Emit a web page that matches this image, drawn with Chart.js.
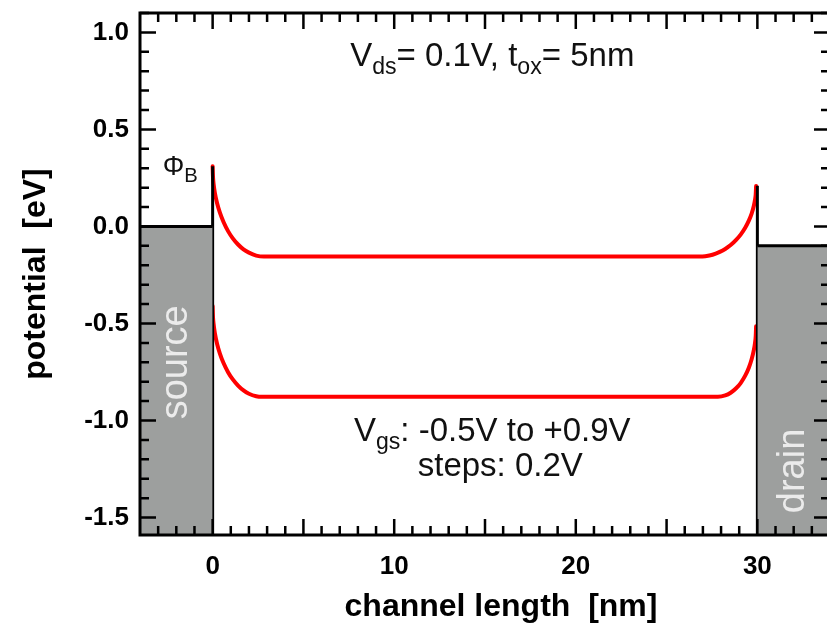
<!DOCTYPE html>
<html>
<head>
<meta charset="utf-8">
<script src="https://cdn.jsdelivr.net/npm/chart.js@4.4.0/dist/chart.umd.min.js"></script>
<style>
    html, body { margin: 0; padding: 0; background: #fff; overflow: hidden; }
</style>
</head>
<body>
<canvas id="potentialChart" width="840" height="626"></canvas>
<script>
// tick labels
const xTickLabels = [0, 10, 20, 30];
const yTickLabels = [-1.5, -1.0, -0.5, 0.0, 0.5, 1.0];

// band edges (nm, eV)
const upperX = [0, 0.02, 0.06, 0.12, 0.25, 0.4, 0.6, 0.85, 1.1, 1.4, 1.7, 2.0, 2.4, 2.82,
                26.83, 27.13, 27.53, 27.93, 28.23, 28.53, 28.83, 29.08, 29.33, 29.53, 29.68, 29.81, 29.87, 29.91, 29.93];
const upperY = [0.31, 0.255, 0.214, 0.175, 0.118, 0.071, 0.023, -0.024, -0.06, -0.093, -0.118, -0.135, -0.15, -0.155,
                -0.155, -0.153, -0.146, -0.131, -0.116, -0.096, -0.069, -0.042, -0.007, 0.03, 0.065, 0.108, 0.137, 0.167, 0.208];
const lowerX = [0, 0.02, 0.06, 0.12, 0.25, 0.4, 0.6, 0.85, 1.1, 1.4, 1.7, 2.0, 2.4, 2.7,
                27.83, 28.23, 28.53, 28.83, 29.08, 29.33, 29.53, 29.68, 29.81, 29.87, 29.91, 29.93];
const lowerY = [-0.41, -0.467, -0.508, -0.548, -0.607, -0.655, -0.704, -0.751, -0.787, -0.82, -0.845, -0.862, -0.875, -0.878,
                -0.878, -0.871, -0.857, -0.834, -0.807, -0.769, -0.728, -0.686, -0.635, -0.6, -0.564, -0.514];

// contacts
const sourceX = [-4, 0];
const sourceLevel = 0.0;
const drainX = [30, 34];
const drainLevel = -0.1;
const barrierSource = 0.31;
const barrierDrain = 0.21;

const xMin = -4, xMax = 34;
const yMin = -1.59, yMax = 1.1;

const toPoints = (xs, ys) => xs.map((v, i) => ({ x: v, y: ys[i] }));

const FONT = "'Liberation Sans', Arial, sans-serif";

function drawRich(ctx, parts, x, y, size, align, subScale = 0.7) {
    // parts: [text, isSub]
    let w = 0;
    parts.forEach(p => {
        ctx.font = (p[1] ? size * subScale : size) + 'px ' + FONT;
        w += ctx.measureText(p[0]).width;
    });
    let cx = align === 'center' ? x - w / 2 : x;
    parts.forEach(p => {
        ctx.font = (p[1] ? size * subScale : size) + 'px ' + FONT;
        ctx.fillText(p[0], cx, p[1] ? y + size * 0.25 : y);
        cx += ctx.measureText(p[0]).width;
    });
}

const framePlugin = {
    id: 'frame',
    afterDatasetsDraw(chart) {
        const { ctx, chartArea: a, scales: { x, y } } = chart;
        ctx.save();
        ctx.strokeStyle = '#000';
        ctx.lineWidth = 2.5;
        ctx.beginPath();
        for (let v = xMin + 1; v < xMax; v++) {
            const len = v % 5 === 0 ? 16 : 9;
            const px = x.getPixelForValue(v);
            ctx.moveTo(px, a.bottom); ctx.lineTo(px, a.bottom - len);
            ctx.moveTo(px, a.top); ctx.lineTo(px, a.top + len);
        }
        for (let i = -15; i <= 11; i++) {
            const len = i % 5 === 0 ? 16 : 9;
            const py = y.getPixelForValue(i / 10);
            ctx.moveTo(a.left, py); ctx.lineTo(a.left + len, py);
            ctx.moveTo(a.right, py); ctx.lineTo(a.right - len, py);
        }
        ctx.stroke();
        ctx.lineWidth = 3;
        ctx.strokeRect(a.left, a.top, a.right - a.left, a.bottom - a.top);

        // axis titles
        ctx.fillStyle = '#000';
        ctx.font = 'bold 32px ' + FONT;
        ctx.textAlign = 'center';
        ctx.textBaseline = 'alphabetic';
        ctx.fillText('channel length  [nm]', 501, 616);
        ctx.save();
        ctx.translate(45, 274);
        ctx.rotate(-Math.PI / 2);
        ctx.fillText('potential  [eV]', 0, 0);
        ctx.restore();

        // annotations
        ctx.textAlign = 'left';
        ctx.fillStyle = '#111';
        const cx = x.getPixelForValue(15.4);
        drawRich(ctx, [['V', false], ['ds', true], ['= 0.1V, t', false], ['ox', true], ['= 5nm', false]], cx, 66, 33, 'center');
        drawRich(ctx, [['V', false], ['gs', true], [': -0.5V to +0.9V', false]], cx, 441, 33, 'center');
        drawRich(ctx, [['steps: 0.2V', false]], cx + 8, 476, 33, 'center');
        drawRich(ctx, [['\u03A6', false], ['B', true]], x.getPixelForValue(-2.75), 175, 27, 'left', 0.75);

        // contact labels
        ctx.fillStyle = '#ebebeb';
        ctx.font = '38px ' + FONT;
        ctx.textAlign = 'center';
        ctx.textBaseline = 'middle';
        [['source', -2, -0.7], ['drain', 32, -1.26]].forEach(l => {
            ctx.save();
            ctx.translate(x.getPixelForValue(l[1]), y.getPixelForValue(l[2]));
            ctx.rotate(-Math.PI / 2);
            ctx.fillText(l[0], 0, 0);
            ctx.restore();
        });
        ctx.restore();
    }
};

const grey = '#9d9f9e';
const red = '#ff0000';

new Chart(document.getElementById('potentialChart'), {
    type: 'scatter',
    data: {
        datasets: [
            { data: toPoints(sourceX, [sourceLevel, sourceLevel]), showLine: true, fill: 'start', backgroundColor: grey, borderColor: '#000', borderWidth: 3, pointRadius: 0 },
            { data: toPoints(drainX, [drainLevel, drainLevel]), showLine: true, fill: 'start', backgroundColor: grey, borderColor: '#000', borderWidth: 3, pointRadius: 0 },
            { data: toPoints([0, 0], [yMin, barrierSource]), showLine: true, borderColor: '#000', borderWidth: 3, pointRadius: 0 },
            { data: toPoints([30, 30], [yMin, barrierDrain]), showLine: true, borderColor: '#000', borderWidth: 3, pointRadius: 0 },
            { data: toPoints(upperX, upperY), showLine: true, cubicInterpolationMode: 'monotone', borderColor: red, borderWidth: 4, pointRadius: 0, borderCapStyle: 'round' },
            { data: toPoints(lowerX, lowerY), showLine: true, cubicInterpolationMode: 'monotone', borderColor: red, borderWidth: 4, pointRadius: 0, borderCapStyle: 'round' }
        ]
    },
    options: {
        responsive: false,
        animation: false,
        layout: { padding: { top: 13, right: 10, left: 0, bottom: 0 } },
        plugins: { legend: { display: false }, tooltip: { enabled: false } },
        scales: {
            x: {
                type: 'linear', min: xMin, max: xMax,
                grid: { display: false, drawTicks: false },
                border: { display: false },
                afterBuildTicks: s => { s.ticks = xTickLabels.map(v => ({ value: v })); },
                afterFit: s => { s.height = 91; s.paddingLeft = 0; s.paddingRight = 0; },
                ticks: { color: '#000', padding: 16, maxRotation: 0, autoSkip: false, font: { family: FONT, size: 26, weight: 'bold' } }
            },
            y: {
                type: 'linear', min: yMin, max: yMax,
                grid: { display: false, drawTicks: false },
                border: { display: false },
                afterBuildTicks: s => { s.ticks = yTickLabels.map(v => ({ value: v })); },
                afterFit: s => { s.width = 140; s.paddingTop = 0; s.paddingBottom = 0; },
                ticks: { color: '#000', padding: 11, autoSkip: false, font: { family: FONT, size: 26, weight: 'bold' }, callback: v => v.toFixed(1) }
            }
        }
    },
    plugins: [framePlugin]
});
</script>
</body>
</html>
